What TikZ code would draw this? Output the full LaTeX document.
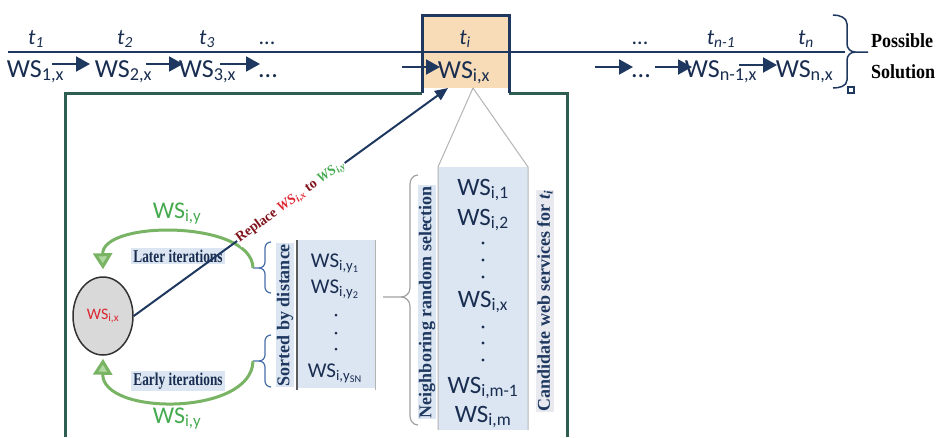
\documentclass[tikz,border=0pt]{standalone}
\usepackage{fontspec}
\setmainfont{Carlito}
\newfontfamily\tnr{Liberation Serif}
\usepackage{graphicx}
\usetikzlibrary{arrows.meta,shapes.geometric}
\definecolor{navy}{RGB}{31,56,96}
\definecolor{dgreen}{RGB}{46,93,82}
\definecolor{orng}{RGB}{248,220,184}
\definecolor{lblue}{RGB}{220,230,242}
\definecolor{garc}{RGB}{120,180,100}
\definecolor{garcl}{RGB}{175,215,160}
\definecolor{gtext}{RGB}{70,170,80}
\definecolor{rtext}{RGB}{220,40,50}
\definecolor{maroon}{RGB}{130,20,30}
\definecolor{cfill}{RGB}{217,217,217}
\definecolor{cline}{RGB}{50,50,50}
\definecolor{vgray}{RGB}{180,180,180}
\definecolor{wstext}{RGB}{25,45,80}
\definecolor{bblue}{RGB}{70,110,170}
\definecolor{cand}{RGB}{232,234,240}
\newcommand\cnd[1]{\scalebox{0.74}[1]{#1}}
\begin{document}
\begin{tikzpicture}[x=1pt,y=-1pt,
  ws/.style={font=\fontsize{26}{30}\selectfont, text=wstext, inner sep=0pt, anchor=base},
  wl/.style={font=\fontsize{25}{28}\selectfont, text=wstext, inner sep=0pt, anchor=base},
  wsm/.style={font=\fontsize{21}{24}\selectfont, text=wstext, inner sep=0pt, anchor=base},
  tl/.style={font=\fontsize{22}{26}\selectfont\itshape, text=wstext, inner sep=0pt, anchor=base},
  arr/.style={draw=navy, line width=2pt, -{Triangle[length=14pt,width=15pt]}},
  garrow/.style={draw=garc, line width=3pt, -{Triangle[length=16pt,width=19pt,fill=garcl]}},
  itlab/.style={fill=lblue, inner sep=2pt, text=wstext, font=\tnr\bfseries\fontsize{18}{20}\selectfont},
  vlab/.style={rotate=90, inner sep=1pt, text=navy, font=\tnr\bfseries\fontsize{18}{20}\selectfont},
  wsg/.style={font=\fontsize{24}{26}\selectfont, text=gtext, inner sep=0pt, anchor=base},
  dotm/.style={fill=wstext}
]
\useasboundingbox (0,0) rectangle (939,437);
\fill[white] (0,0) rectangle (939,437);

% orange box and frames
\fill[orng] (422,15) rectangle (509,88);
\coordinate (ls) at (8,52);
\coordinate (le) at (845,52);
\draw[navy, line width=2pt] (ls) -- (le);
\draw[dgreen, line width=3pt] (65,437) -- (65,93) -- (422,93);
\draw[dgreen, line width=3pt] (509,93) -- (567,93) -- (567,437);
\draw[navy, line width=3pt] (422,93) -- (422,15) -- (509,15) -- (509,93);

% top row
\node[tl] (t1) at (36,44) {t\textsubscript{1}};
\node[tl] (t2) at (125,44) {t\textsubscript{2}};
\node[tl] (t3) at (207,44) {t\textsubscript{3}};
\node[tl] (td1) at (267,44) {\upshape ...};
\node[tl] (ti) at (465,44) {t\textsubscript{i}};
\node[tl] (td2) at (640,44) {\upshape ...};
\node[tl] (tn1) at (721,44) {t\textsubscript{n-1}};
\node[tl] (tn) at (806,44) {t\textsubscript{n}};

\node[ws] (w1) at (35.5,77) {WS\textsubscript{1,x}};
\node[ws] (w2) at (123.5,77) {WS\textsubscript{2,x}};
\node[ws] (w3) at (207.5,77) {WS\textsubscript{3,x}};
\node[ws] (d1) at (268,77) {...};
\node[ws] (wi) at (464,78) {WS\textsubscript{i,x}};
\node[ws] (d2) at (641,77) {...};
\node[ws] (wn1) at (721,77) {WS\textsubscript{n-1,x}};
\node[ws] (wn) at (804.5,77) {WS\textsubscript{n,x}};

\coordinate (a4s) at (402,67);
\coordinate (a5s) at (595,67);
\draw[arr] ([shift={(16.5,-13)}]w1.base) -- ([shift={(-33.5,-13)}]w2.base);
\draw[arr] ([shift={(22.5,-13)}]w2.base) -- ([shift={(-24.5,-13)}]w3.base);
\draw[arr] ([shift={(12.5,-13)}]w3.base) -- ([shift={(-8,-13)}]d1.base);
\draw[arr] (a4s) -- ([shift={(-24,-11)}]wi.base);
\draw[arr] (a5s) -- ([shift={(-8,-10)}]d2.base);
\draw[arr] ([shift={(14,-10)}]d2.base) -- ([shift={(-29,-10)}]wn1.base);
\draw[arr] ([shift={(18,-12)}]wn1.base) -- ([shift={(-27.5,-12)}]wn.base);

% possible solution brace
\draw[navy, line width=1.5pt] (833,15) to[out=0,in=90] (847,24) -- (847,44) to[out=-90,in=180] (855,52) -- (868,52);
\draw[navy, line width=1.5pt] (833,88) to[out=0,in=-90] (847,80) -- (847,60) to[out=90,in=180] (855,52);
\draw[navy, line width=1.2pt] (848,87) rectangle (854,93);
\node[anchor=west, align=left, inner sep=0pt, text=black, font=\tnr\bfseries\fontsize{20}{31}\selectfont] (ps) at (871,56) {\scalebox{0.9}[1]{Possible}\\\scalebox{0.9}[1]{Solution}};

% V from WS_i,x to candidate list
\coordinate (vap) at (473,88);
\fill[lblue] (438,167) rectangle (528,430);
\coordinate (lvl) at (438,167);
\coordinate (lvr) at (528,167);
\draw[vgray, line width=1pt] (vap) -- (lvl) -- (438,430);
\draw[vgray, line width=1pt] (vap) -- (lvr) -- (528,430);

\node[wl] (c1) at (483,195) {WS\textsubscript{i,1}};
\node[wl] (c2) at (483,225) {WS\textsubscript{i,2}};
\fill[dotm] (483,243) circle (1.6);
\fill[dotm] (483,260) circle (1.6);
\fill[dotm] (483,277) circle (1.6);
\node[wl] (cx) at (483,307) {WS\textsubscript{i,x}};
\fill[dotm] (483,327) circle (1.6);
\fill[dotm] (483,343) circle (1.6);
\fill[dotm] (483,360) circle (1.6);
\node[wl] (cm1) at (483,393) {WS\textsubscript{i,m-1}};
\node[wl] (cm) at (483,422) {WS\textsubscript{i,m}};

\node[vlab, fill=lblue] (nrs) at (427,302) {Neighboring random selection};
\node[vlab, fill=cand] (cws) at (545,301) {Candidate web services for \textit{t\textsubscript{i}}};

% big brace
\draw[vgray!90!black, line width=1.2pt] (418,175) to[out=180,in=90] (410,184) -- (410,288) to[out=-90,in=0] (401,297) -- (383,297);
\draw[vgray!90!black, line width=1.2pt] (418,425) to[out=180,in=-90] (410,416) -- (410,306) to[out=90,in=0] (401,297);

% sorted list
\fill[lblue] (297,240) rectangle (375,388);
\draw[cline!80, line width=2pt] (297,240) -- (297,390);
\draw[vgray, line width=1pt] (375,240) -- (375,390);
\node[vlab, fill=lblue] (sbd) at (285,315) {Sorted by distance};
\node[wsm] (s1) at (335,267) {WS\textsubscript{i,y\textsubscript{1}}};
\node[wsm] (s2) at (335,293) {WS\textsubscript{i,y\textsubscript{2}}};
\fill[dotm] (336,315) circle (1.5);
\fill[dotm] (336,333) circle (1.5);
\fill[dotm] (336,349) circle (1.5);
\node[wsm] (sn) at (335,377) {WS\textsubscript{i,y\textsubscript{SN}}};

% small braces
\coordinate (bt1) at (253,268);
\coordinate (bt2) at (253,361);
\draw[bblue, line width=1.2pt] (271,242) to[out=180,in=90] (265,248) -- (265,262) to[out=-90,in=0] (259,268) -- (bt1);
\draw[bblue, line width=1.2pt] (271,293) to[out=180,in=-90] (265,287) -- (265,274) to[out=90,in=0] (259,268);
\draw[bblue, line width=1.2pt] (271,335) to[out=180,in=90] (265,341) -- (265,355) to[out=-90,in=0] (259,361) -- (bt2);
\draw[bblue, line width=1.2pt] (271,387) to[out=180,in=-90] (265,381) -- (265,367) to[out=90,in=0] (259,361);

% circle
\node[draw=cline, line width=1.5pt, fill=cfill, ellipse, minimum width=60pt, minimum height=78pt, inner sep=0pt, text=rtext, font=\fontsize{16}{18}\selectfont] (c) at (103,316) {WS\textsubscript{i,x}};

% green arcs
\draw[garrow] (bt1) .. controls (252,220) and (102,220) .. ([yshift=7pt]c.north);
\draw[garrow] (bt2) .. controls (252,416) and (102,416) .. ([yshift=-3pt]c.south);
\node[itlab] (li) at (178,256) {\cnd{Later iterations}};
\node[itlab] (ei) at (178,381) {\cnd{Early iterations}};
\node[wsg] (gy1) at (177,218) {WS\textsubscript{i,y}};
\node[wsg] (gy2) at (177,423) {WS\textsubscript{i,y}};

% replace arrow
\coordinate (dtip) at (448,88);
\draw[navy, line width=2pt, -{Triangle[length=13pt,width=11pt]}] (c.east) -- (dtip)
  node[midway, sloped, fill=white, inner sep=1pt, font=\tnr\bfseries\fontsize{14}{16}\selectfont] (rep)
  {\textcolor{maroon}{Replace} \textcolor{rtext}{\textit{WS\textsubscript{i,x}}} \textcolor{maroon}{to} \textcolor{gtext}{\textit{WS\textsubscript{i,y}}}};
\end{tikzpicture}
\end{document}
